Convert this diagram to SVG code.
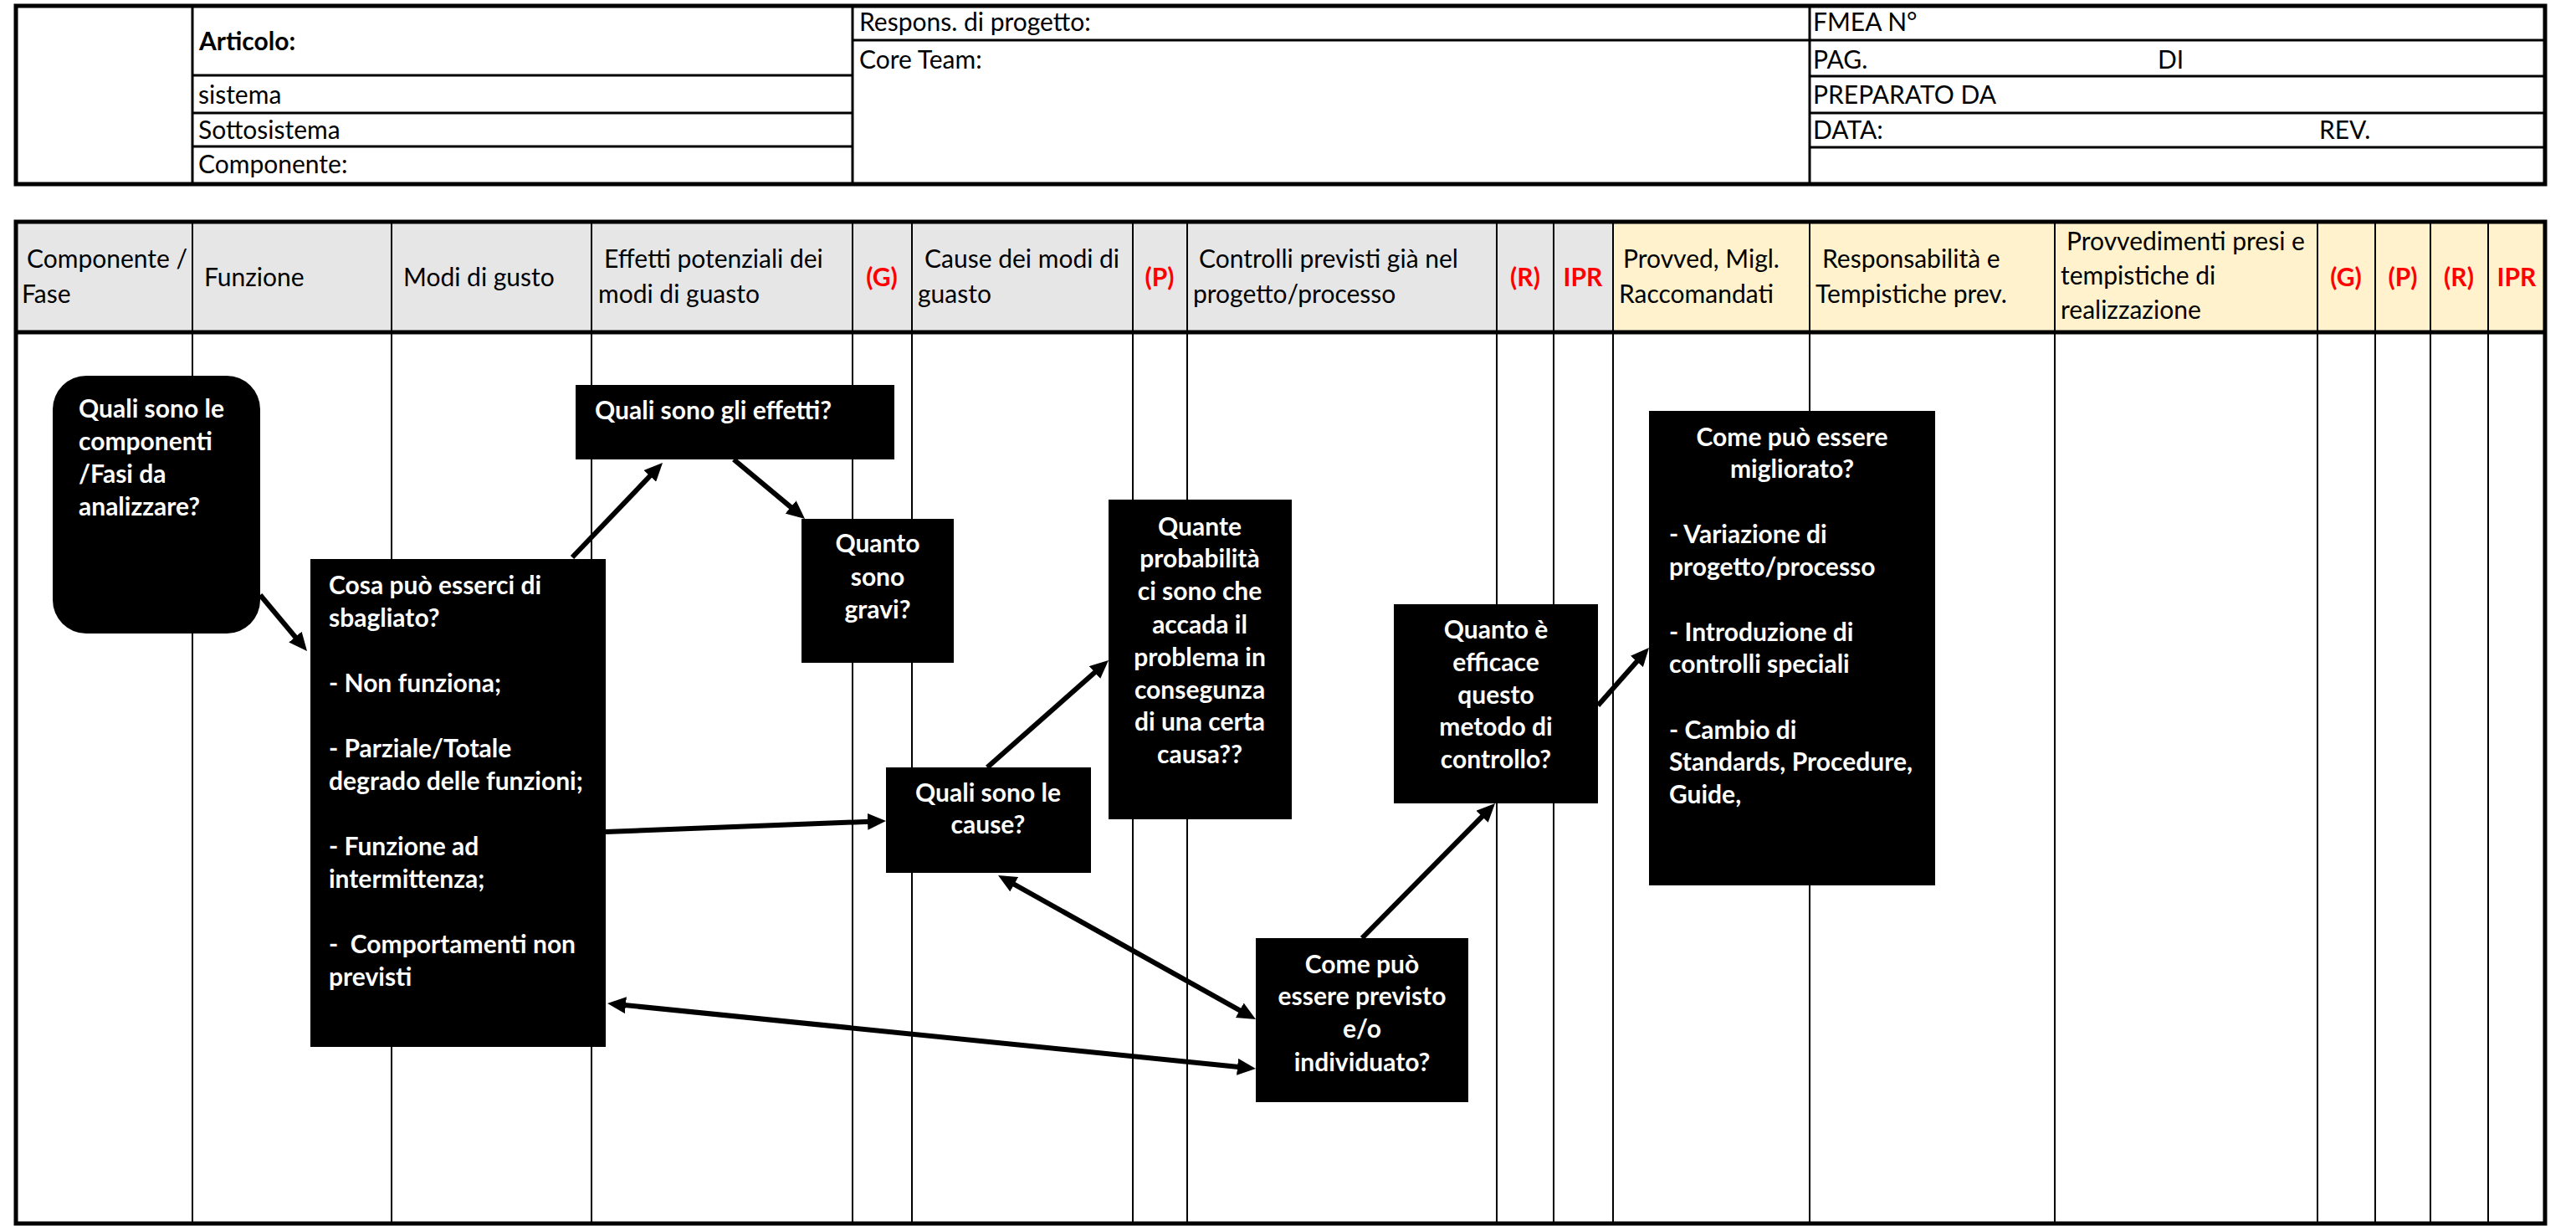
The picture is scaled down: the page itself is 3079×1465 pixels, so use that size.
<svg xmlns="http://www.w3.org/2000/svg" width="3079" height="1465" viewBox="0 0 3079 1465">
<defs>
<style>
.t{font-family:Lato,"Liberation Sans",sans-serif;font-size:30px;fill:#000}
.b{font-weight:bold}
.r{fill:#FF0000;font-weight:bold;text-anchor:middle}
.w{fill:#fff;font-weight:bold}
.c{text-anchor:middle}
.ln{stroke:#000;stroke-width:3;fill:none}
.thin{stroke:#000;stroke-width:2;fill:none}
.thick{stroke:#000;stroke-width:5;fill:none}
.node{fill:#000}
.conn{stroke:#000;stroke-width:6;fill:none;marker-end:url(#ah)}
.conn2{stroke:#000;stroke-width:6;fill:none;marker-end:url(#ah);marker-start:url(#ah)}
</style>
<marker id="ah" markerUnits="userSpaceOnUse" markerWidth="22" markerHeight="20" refX="14" refY="10" orient="auto-start-reverse" viewBox="0 0 22 20">
<path d="M0,0 L22,10 L0,20 z" fill="#000"/>
</marker>
</defs>
<rect width="3079" height="1465" fill="#fff"/>

<g id="header-table">
<rect x="19" y="7" width="3023" height="213" fill="#fff" class="thick"/>
<path class="ln" d="M230,7V220 M1019,7V220 M2163,7V220 M230,90H1019 M230,135H1019 M230,175H1019 M1019,48H2163 M2163,48H3042 M2163,91H3042 M2163,135H3042 M2163,176H3042"/>
<text class="t b" x="238" y="60">Articolo:</text>
<text class="t" x="237" y="124">sistema</text>
<text class="t" x="237" y="166">Sottosistema</text>
<text class="t" x="237" y="207">Componente:</text>
<text class="t" x="1027" y="37">Respons. di progetto:</text>
<text class="t" x="1027" y="82">Core Team:</text>
<text class="t" x="2167" y="37">FMEA N°</text>
<text class="t" x="2167" y="82">PAG.</text>
<text class="t" x="2579" y="82">DI</text>
<text class="t" x="2167" y="124">PREPARATO DA</text>
<text class="t" x="2167" y="166">DATA:</text>
<text class="t" x="2772" y="166">REV.</text>
</g>

<g id="fmea-table">
<rect x="19" y="265" width="1909" height="132" fill="#E7E6E6"/>
<rect x="1928" y="265" width="1114" height="132" fill="#FFF2CC"/>
<path class="thin" d="M230,265V1462 M468,265V1462 M707,265V1462 M1019,265V1462 M1090,265V1462 M1354,265V1462 M1419,265V1462 M1789,265V1462 M1857,265V1462 M1928,265V1462 M2163,265V1462 M2456,265V1462 M2770,265V1462 M2839,265V1462 M2905,265V1462 M2974,265V1462"/>
<path class="thick" d="M19,397H3042"/>
<rect x="19" y="265" width="3023" height="1197" class="thick"/>
<text class="t" x="32" y="320">Componente /</text>
<text class="t" x="26" y="362">Fase</text>
<text class="t" x="244" y="342">Funzione</text>
<text class="t" x="482" y="342">Modi di gusto</text>
<text class="t" x="722" y="320">Effetti potenziali dei</text>
<text class="t" x="715" y="362">modi di guasto</text>
<text class="t r" x="1054" y="342">(G)</text>
<text class="t" x="1105" y="320">Cause dei modi di</text>
<text class="t" x="1097" y="362">guasto</text>
<text class="t r" x="1386" y="342">(P)</text>
<text class="t" x="1433" y="320">Controlli previsti già nel</text>
<text class="t" x="1426" y="362">progetto/processo</text>
<text class="t r" x="1823" y="342">(R)</text>
<text class="t r" x="1892" y="342">IPR</text>
<text class="t" x="1940" y="320">Provved, Migl.</text>
<text class="t" x="1935" y="362">Raccomandati</text>
<text class="t" x="2178" y="320">Responsabilità e</text>
<text class="t" x="2170" y="362">Tempistiche prev.</text>
<text class="t" x="2470" y="299">Provvedimenti presi e</text>
<text class="t" x="2463" y="340">tempistiche di</text>
<text class="t" x="2463" y="381">realizzazione</text>
<text class="t r" x="2804" y="342">(G)</text>
<text class="t r" x="2872" y="342">(P)</text>
<text class="t r" x="2939" y="342">(R)</text>
<text class="t r" x="3008" y="342">IPR</text>
</g>

<g id="connectors">
<path class="conn" d="M311,711 L361.9,771.9"/>
<path class="conn" d="M684,666 L786.5,558.8"/>
<path class="conn" d="M877,549 L955.9,614.9"/>
<path class="conn" d="M724,994 L1051,981.3"/>
<path class="conn" d="M1180,917 L1319,794.3"/>
<path class="conn2" d="M1200,1049.9 L1494,1214.1"/>
<path class="conn2" d="M734,1199.8 L1493,1276.2"/>
<path class="conn" d="M1628,1121 L1781.4,965.7"/>
<path class="conn" d="M1910,843 L1965.7,780"/>
</g>

<g id="node-componenti">
<rect class="node" x="63" y="449" width="248" height="308" rx="40"/>
<text class="t w" x="94" y="499">Quali sono le</text>
<text class="t w" x="94" y="538">componenti</text>
<text class="t w" x="94" y="577">/Fasi da</text>
<text class="t w" x="94" y="616">analizzare?</text>
</g>

<g id="node-sbagliato">
<rect class="node" x="371" y="668" width="353" height="583"/>
<text class="t w" x="393" y="710">Cosa può esserci di</text>
<text class="t w" x="393" y="749">sbagliato?</text>
<text class="t w" x="393" y="827">- Non funziona;</text>
<text class="t w" x="393" y="905">- Parziale/Totale</text>
<text class="t w" x="393" y="944">degrado delle funzioni;</text>
<text class="t w" x="393" y="1022">- Funzione ad</text>
<text class="t w" x="393" y="1061">intermittenza;</text>
<text class="t w" x="393" y="1139" xml:space="preserve">-  Comportamenti non</text>
<text class="t w" x="393" y="1178">previsti</text>
</g>

<g id="node-effetti">
<rect class="node" x="688" y="460" width="381" height="89"/>
<text class="t w" x="711" y="501">Quali sono gli effetti?</text>
</g>

<g id="node-gravi">
<rect class="node" x="958" y="620" width="182" height="172"/>
<text class="t w c" x="1049" y="660">Quanto</text>
<text class="t w c" x="1049" y="700">sono</text>
<text class="t w c" x="1049" y="739">gravi?</text>
</g>

<g id="node-cause">
<rect class="node" x="1059" y="917" width="245" height="126"/>
<text class="t w c" x="1181" y="958">Quali sono le</text>
<text class="t w c" x="1181" y="996">cause?</text>
</g>

<g id="node-probabilita">
<rect class="node" x="1325" y="597" width="219" height="382"/>
<text class="t w c" x="1434" y="640">Quante</text>
<text class="t w c" x="1434" y="678">probabilità</text>
<text class="t w c" x="1434" y="717">ci sono che</text>
<text class="t w c" x="1434" y="757">accada il</text>
<text class="t w c" x="1434" y="796">problema in</text>
<text class="t w c" x="1434" y="835">consegunza</text>
<text class="t w c" x="1434" y="873">di una certa</text>
<text class="t w c" x="1434" y="912">causa??</text>
</g>

<g id="node-efficace">
<rect class="node" x="1666" y="722" width="244" height="238"/>
<text class="t w c" x="1788" y="763">Quanto è</text>
<text class="t w c" x="1788" y="802">efficace</text>
<text class="t w c" x="1788" y="841">questo</text>
<text class="t w c" x="1788" y="879">metodo di</text>
<text class="t w c" x="1788" y="918">controllo?</text>
</g>

<g id="node-migliorato">
<rect class="node" x="1971" y="491" width="342" height="567"/>
<text class="t w c" x="2142" y="533">Come può essere</text>
<text class="t w c" x="2142" y="571">migliorato?</text>
<text class="t w" x="1995" y="649">- Variazione di</text>
<text class="t w" x="1995" y="688">progetto/processo</text>
<text class="t w" x="1995" y="766">- Introduzione di</text>
<text class="t w" x="1995" y="804">controlli speciali</text>
<text class="t w" x="1995" y="883">- Cambio di</text>
<text class="t w" x="1995" y="921">Standards, Procedure,</text>
<text class="t w" x="1995" y="960">Guide,</text>
</g>

<g id="node-previsto">
<rect class="node" x="1501" y="1121" width="254" height="196"/>
<text class="t w c" x="1628" y="1163">Come può</text>
<text class="t w c" x="1628" y="1201">essere previsto</text>
<text class="t w c" x="1628" y="1240">e/o</text>
<text class="t w c" x="1628" y="1280">individuato?</text>
</g>
</svg>
